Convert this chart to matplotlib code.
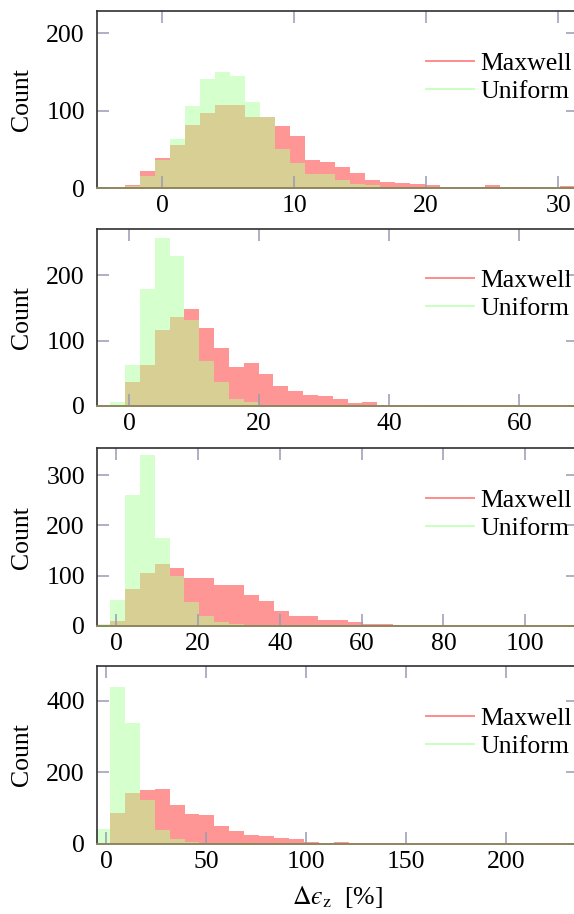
import numpy as np
import matplotlib
matplotlib.use('Agg')
import matplotlib.pyplot as plt
from matplotlib.lines import Line2D

plt.rcParams['font.family'] = 'serif'
plt.rcParams['font.serif'] = ['Liberation Serif', 'DejaVu Serif']
plt.rcParams['mathtext.fontset'] = 'stix'

# histogram counts, one list per panel
# bins: start of first bin, bin width
bins1 = (-5.09, 1.136)
maxwell1 = [1, 1, 4, 22, 39, 56, 82, 97, 107, 108, 92, 92, 80, 68, 36, 34,
            28, 20, 11, 8, 7, 5, 4, 1, 0, 0, 4, 1, 2, 0, 0, 3]
uniform1 = [1, 1, 3, 16, 37, 64, 106, 141, 150, 145, 111, 92, 51, 32, 18, 19,
            11, 5, 4, 2, 1, 1, 0, 0, 0, 0, 0, 0, 0, 0, 0, 0]

bins2 = (-5.17, 2.28)
maxwell2 = [0, 1, 37, 62, 116, 136, 148, 119, 88, 59, 65, 49, 30, 23, 17, 15,
            10, 4, 6, 1, 1, 0, 2, 1, 1, 0, 0, 0, 0, 0, 0, 0, 1]
uniform2 = [1, 6, 63, 178, 257, 229, 132, 69, 37, 10, 6, 2, 1, 1, 0, 0,
            0, 0, 0, 0, 0, 0, 0, 0, 0, 0, 0, 0, 0, 0, 0, 0, 0]

bins3 = (-5.19, 3.64)
maxwell3 = [0, 10, 73, 106, 124, 116, 96, 95, 82, 82, 61, 49, 30, 20, 20, 12,
            12, 8, 4, 3, 2, 1, 2, 2, 1, 2, 0, 1, 2, 1, 0, 1, 0]
uniform3 = [3, 51, 261, 341, 176, 99, 47, 20, 8, 4, 2, 1, 1, 0, 0, 0,
            0, 0, 0, 0, 0, 0, 0, 0, 0, 0, 0, 0, 0, 0, 0, 0, 0]

bins4 = (-5.62, 7.46)
maxwell4 = [0, 85, 141, 150, 152, 108, 84, 81, 50, 36, 25, 21, 15, 12, 6, 2,
            5, 2, 1, 1, 3, 1, 1, 1, 3, 1, 0, 1, 0, 0, 1, 0, 0]
uniform4 = [42, 438, 337, 121, 37, 12, 5, 1, 0, 0, 0, 0, 0, 0, 0, 0,
            0, 0, 0, 0, 0, 0, 0, 0, 0, 0, 0, 0, 0, 0, 0, 0, 0]

xlims = [(-4.97, 31.5), (-4.96, 69.0), (-4.81, 112.9), (-4.84, 236.0)]
ylims = [229, 271, 353, 497]
xticks = [[0, 10, 20, 30], [0, 20, 40, 60], [0, 20, 40, 60, 80, 100],
          [0, 50, 100, 150, 200]]
yticks = [[0, 100, 200], [0, 100, 200], [0, 100, 200, 300], [0, 200, 400]]

red = '#ff9696'
green = '#d5ffcd'
olive = '#d8cf94'
tickcol = '#9a9ab4'
fs = 18.5

fig = plt.figure(figsize=(5.74, 9.14), dpi=100)

# axes bottoms in pixels from top of the figure
bottoms_px = [188.3, 406.0, 626.0, 843.7]
left = 96.7 / 574
width = (578 - 96.7) / 574
height = 177.5 / 914

panels = [(bins1, maxwell1, uniform1), (bins2, maxwell2, uniform2),
          (bins3, maxwell3, uniform3), (bins4, maxwell4, uniform4)]

for k, (b, mx, un) in enumerate(panels):
    ax = fig.add_axes([left, 1 - bottoms_px[k] / 914, width, height])
    mx = np.array(mx, dtype=float)
    un = np.array(un, dtype=float)
    edges = b[0] + b[1] * np.arange(len(mx) + 1)
    ax.stairs(mx, edges, fill=True, color=red, linewidth=0)
    ax.stairs(un, edges, fill=True, color=green, linewidth=0)
    ax.stairs(np.minimum(mx, un), edges, fill=True, color=olive, linewidth=0)

    ax.set_xlim(xlims[k])
    ax.set_ylim(0, ylims[k])
    ax.set_xticks(xticks[k])
    ax.set_yticks(yticks[k])
    ax.tick_params(which='both', direction='in', top=True, right=True,
                   length=8.6, width=1.1, color=tickcol, labelsize=fs)
    ax.tick_params(axis='y', pad=8.5)
    ax.tick_params(axis='x', pad=5)
    for s in ['left', 'top', 'right']:
        ax.spines[s].set_color('#303030')
        ax.spines[s].set_linewidth(1.2)
    ax.spines['bottom'].set_color('#8f8660')
    ax.spines['bottom'].set_linewidth(1.4)

    ax.set_ylabel('Count', fontsize=fs, va='center')
    ax.yaxis.set_label_coords(-0.155, 0.5)

    handles = [Line2D([], [], color='#ff8c8c', linewidth=1.4),
               Line2D([], [], color='#c8ffbe', linewidth=1.4)]
    ax.legend(handles, ['Maxwell', 'Uniform'], loc='upper left',
              bbox_to_anchor=(0.684, 0.77), frameon=False, fontsize=fs,
              borderpad=0, borderaxespad=0, handlelength=1.87,
              handletextpad=0.24, labelspacing=0.2)

    if k == 3:
        ax.set_xlabel('$\\Delta \u03f5_\\mathrm{z}$  [%]', fontsize=fs,
                      labelpad=8)

fig.savefig('out.png', dpi=100)
